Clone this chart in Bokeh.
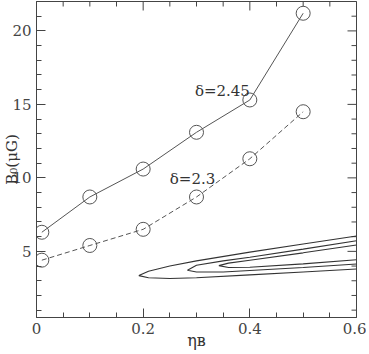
import numpy as np
from bokeh.plotting import figure
from bokeh.models import FixedTicker, LinearAxis, Label, Range1d
from bokeh.embed import file_html
from bokeh.resources import INLINE

# ---- data ----
eta = [0.01, 0.1, 0.2, 0.3, 0.4, 0.5]
b_d245 = [6.3, 8.7, 10.6, 13.1, 15.3, 21.2]
b_d23 = [4.4, 5.4, 6.5, 8.7, 11.3, 14.5]

# likelihood contours (outline points)
c1_x = [0.6, 0.5, 0.4, 0.3, 0.25, 0.21, 0.192, 0.21, 0.25, 0.3, 0.4, 0.5, 0.6]
c1_y = [6.05, 5.5, 4.95, 4.35, 4.0, 3.65, 3.35, 3.2, 3.15, 3.2, 3.4, 3.6, 3.8]
c2_x = [0.6, 0.5, 0.4, 0.35, 0.3, 0.283, 0.3, 0.35, 0.4, 0.5, 0.6]
c2_y = [5.72, 5.15, 4.6, 4.35, 4.05, 3.72, 3.6, 3.6, 3.7, 3.9, 4.14]
c3_x = [0.6, 0.5, 0.4, 0.36, 0.342, 0.36, 0.4, 0.5, 0.6]
c3_y = [5.43, 4.9, 4.4, 4.2, 4.03, 3.9, 3.92, 4.15, 4.43]

x_ticks = [0, 0.2, 0.4, 0.6]
x_tick_labels = ["0", "0.2", "0.4", "0.6"]
x_minor = [0.05, 0.1, 0.15, 0.25, 0.3, 0.35, 0.45, 0.5, 0.55]
y_ticks = [5, 10, 15, 20]
y_tick_labels = ["5", "10", "15", "20"]
y_minor = [1, 2, 3, 4, 6, 7, 8, 9, 11, 12, 13, 14, 16, 17, 18, 19, 21, 22]

X_MIN, X_MAX = 0, 0.6
Y_MIN, Y_MAX = 0.5, 22

FONT = "DejaVu Serif"
INK = "#444444"
TXT = "#333333"

p = figure(width=366, height=352, output_backend="svg", toolbar_location=None,
           x_range=Range1d(X_MIN, X_MAX), y_range=Range1d(Y_MIN, Y_MAX),
           min_border_left=0, min_border_right=10, min_border_top=1, min_border_bottom=0,
           x_axis_location=None, y_axis_location=None)
p.grid.visible = False
p.outline_line_color = INK
p.outline_line_width = 1
p.background_fill_color = "white"
p.border_fill_color = "white"

xt = FixedTicker(ticks=x_ticks, minor_ticks=x_minor)
yt = FixedTicker(ticks=y_ticks, minor_ticks=y_minor)


def style(ax):
    ax.major_tick_in = 9
    ax.major_tick_out = 0
    ax.minor_tick_in = 5
    ax.minor_tick_out = 0
    ax.axis_line_color = INK
    ax.major_tick_line_color = INK
    ax.minor_tick_line_color = INK
    ax.major_label_text_font = FONT
    ax.major_label_text_font_size = "15px"
    ax.major_label_text_color = INK
    ax.major_label_standoff = 5
    ax.axis_label_text_font = FONT
    ax.axis_label_text_font_style = "normal"
    ax.axis_label_text_color = TXT


bx = LinearAxis(ticker=xt, major_label_overrides=dict(zip(x_ticks, x_tick_labels)),
                axis_label="ηʙ")
style(bx)
bx.axis_label_text_font_size = "16px"
bx.axis_label_standoff = -6
p.add_layout(bx, "below")

ly = LinearAxis(ticker=yt, major_label_overrides=dict(zip(y_ticks, y_tick_labels)),
                axis_label="B₀(μG)")
style(ly)
ly.axis_label_text_font_size = "15px"
ly.axis_label_standoff = -12
p.add_layout(ly, "left")

# tick marks on the top and right edges (half of each dash is clipped by the frame)
TOP = [Y_MAX] * len(x_ticks)
TOPm = [Y_MAX] * len(x_minor)
RIGHT = [X_MAX] * len(y_ticks)
RIGHTm = [X_MAX] * len(y_minor)
p.scatter(x_ticks, TOP, marker="dash", size=18, angle=np.pi / 2, line_color=INK, line_width=1)
p.scatter(x_minor, TOPm, marker="dash", size=10, angle=np.pi / 2, line_color=INK, line_width=1)
p.scatter(RIGHT, y_ticks, marker="dash", size=18, line_color=INK, line_width=1)
p.scatter(RIGHTm, y_minor, marker="dash", size=10, line_color=INK, line_width=1)

LINE = "#555555"
p.line(eta, b_d245, line_color=LINE, line_width=1)
p.scatter(eta, b_d245, size=14, marker="circle", fill_color=None, line_color=LINE, line_width=1)
p.line(eta, b_d23, line_color=LINE, line_width=1, line_dash="5 3")
p.scatter(eta, b_d23, size=14, marker="circle", fill_color=None, line_color=LINE, line_width=1)

for cx, cy in [(c1_x, c1_y), (c2_x, c2_y), (c3_x, c3_y)]:
    p.line(cx, cy, line_color="#333333", line_width=1.1)

p.add_layout(Label(x=0.297, y=15.9, text="δ=2.45", text_font=FONT, text_font_size="15px",
                   text_color=TXT, text_baseline="alphabetic"))
p.add_layout(Label(x=0.25, y=9.9, text="δ=2.3", text_font=FONT, text_font_size="15px",
                   text_color=TXT, text_baseline="alphabetic"))

open("out.html", "w").write(file_html(p, INLINE))
